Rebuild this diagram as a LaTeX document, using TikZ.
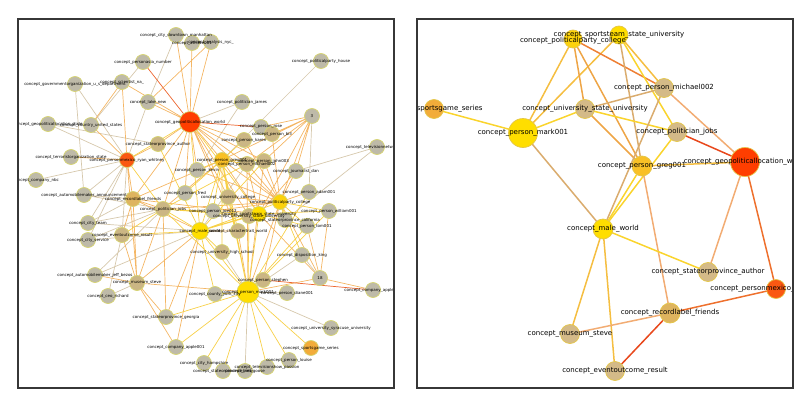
\documentclass[tikz,border=0pt]{standalone}
\usepackage{fontspec}
\setmainfont{DejaVu Sans}
\usetikzlibrary{backgrounds}
\definecolor{ndgray}{RGB}{190,186,168}
\definecolor{ndtan}{RGB}{203,182,132}
\definecolor{rtan}{RGB}{212,186,136}
\definecolor{ndgold}{RGB}{222,180,95}
\definecolor{ndyel}{RGB}{255,222,0}
\definecolor{ndgreg}{RGB}{249,192,38}
\definecolor{ndpcol}{RGB}{252,210,12}
\definecolor{ndorange}{RGB}{242,172,58}
\definecolor{ndred}{RGB}{255,62,0}
\definecolor{ndmex}{RGB}{250,88,18}
\definecolor{rimleft}{RGB}{214,212,112}
\definecolor{rimright}{RGB}{228,198,72}
\definecolor{boxline}{RGB}{55,55,55}
% left links
\definecolor{egtan}{RGB}{214,200,172}
\definecolor{egora}{RGB}{244,182,100}
\definecolor{egyel}{RGB}{247,208,72}
\definecolor{egred}{RGB}{236,100,45}
% right links
\definecolor{ry}{RGB}{250,212,45}
\definecolor{ryo}{RGB}{245,190,65}
\definecolor{ro}{RGB}{238,165,70}
\definecolor{rt}{RGB}{218,172,110}
\definecolor{rlo}{RGB}{242,172,115}
\definecolor{rr}{RGB}{232,72,28}
\definecolor{ror}{RGB}{238,112,45}
\tikzset{
  lnode/.style={circle,inner sep=0pt,outer sep=0pt,minimum size=15pt,
                line width=0.7pt,draw=rimleft,fill=ndgray},
  rnode/.style={circle,inner sep=0pt,outer sep=0pt,minimum size=19pt,
                line width=0.7pt,draw=rimright,fill=rtan},
  tl/.style={font=\fontsize{4}{4}\selectfont,inner sep=0pt},
  tr/.style={font=\fontsize{7}{7}\selectfont,inner sep=0pt},
  lk/.style={line width=0.7pt},
  rk/.style={line width=1.5pt}
}
\begin{document}
\begin{tikzpicture}[x=1pt,y=-1pt]
  \useasboundingbox (0,0) rectangle (812,407);
  % Left graph: nodes
  \node[lnode] (dtm) at (176,35) {};
  \node[lnode] (ath) at (192,43) {};
  \node[lnode] (nyc) at (211,42) {};
  \node[lnode] (asia) at (143,62) {};
  \node[lnode] (sci) at (122,82) {};
  \node[lnode] (gov) at (75,84) {};
  \node[lnode] (lake) at (148,102) {};
  \node[lnode] (house) at (321,61) {};
  \node[lnode] (james) at (242,102) {};
  \node[lnode] (three) at (312,116) {};
  \node[lnode] (geol) at (48,124) {};
  \node[lnode] (usa) at (91,125) {};
  \node[lnode] (rose) at (261,127) {};
  \node[lnode,fill=ndtan] (bill) at (272,134) {};
  \node[lnode,fill=ndtan] (author) at (158,144) {};
  \node[lnode,fill=ndtan] (karen) at (244,140) {};
  \node[lnode] (tele) at (377,147) {};
  \node[lnode] (tstate) at (71,157) {};
  \node[lnode,fill=ndmex] (mex) at (127,160) {};
  \node[lnode,fill=ndgreg] (greg) at (222,160) {};
  \node[lnode,fill=ndtan] (mich) at (247,164) {};
  \node[lnode,fill=ndtan] (john) at (264,161) {};
  \node[lnode] (kevin) at (197,170) {};
  \node[lnode] (dan) at (296,171) {};
  \node[lnode] (nbc) at (36,180) {};
  \node[lnode] (adam) at (309,192) {};
  \node[lnode] (pfred) at (185,193) {};
  \node[lnode,fill=ndtan] (ucol) at (228,197) {};
  \node[lnode] (amaker) at (84,195) {};
  \node[lnode,fill=ndgold] (rec) at (133,199) {};
  \node[lnode,fill=ndpcol] (pcol) at (280,202) {};
  \node[lnode,fill=ndtan] (jobs) at (163,209) {};
  \node[lnode] (joe) at (213,211) {};
  \node[lnode] (will) at (329,211) {};
  \node[lnode,fill=ndtan] (ustate) at (249,216) {};
  \node[lnode,fill=ndyel] (sport) at (259,214) {};
  \node[lnode] (calif) at (285,220) {};
  \node[lnode] (tom) at (307,226) {};
  \node[lnode] (team) at (88,223) {};
  \node[lnode,fill=ndtan] (event) at (122,235) {};
  \node[lnode,fill=ndyel,minimum size=17pt] (male) at (200,231) {};
  \node[lnode,fill=ndtan] (trait) at (238,231) {};
  \node[lnode] (cserv) at (88,240) {};
  \node[lnode,fill=ndtan] (high) at (222,252) {};
  \node[lnode] (king) at (302,255) {};
  \node[lnode] (jeff) at (95,275) {};
  \node[lnode] (eighteen) at (320,278) {};
  \node[lnode,fill=ndtan] (steph) at (263,280) {};
  \node[lnode,fill=ndtan] (museum) at (137,283) {};
  \node[lnode,fill=ndyel,minimum size=22pt] (mark) at (248,292) {};
  \node[lnode] (york) at (215,294) {};
  \node[lnode] (diane) at (287,293) {};
  \node[lnode] (apple) at (373,290) {};
  \node[lnode] (ceo) at (108,296) {};
  \node[lnode] (georgia) at (166,317) {};
  \node[lnode] (syr) at (331,328) {};
  \node[lnode] (apple1) at (176,347) {};
  \node[lnode,fill=ndorange] (series) at (311,348) {};
  \node[lnode] (louise) at (289,360) {};
  \node[lnode] (hamp) at (204,363) {};
  \node[lnode] (snew) at (223,371) {};
  \node[lnode] (goose) at (245,371) {};
  \node[lnode] (passion) at (267,367) {};
  \node[lnode,fill=ndred,minimum size=21pt] (geo) at (190,122) {};
  % Left graph: links
  \begin{scope}[on background layer]
    \draw[lk,egtan] (geo) -- (james) (gov) -- (mex) (gov) -- (amaker) (geol) -- (mex)
      (nbc) -- (mex) (amaker) -- (mex) (team) -- (mex) (cserv) -- (mex) (event) -- (mex)
      (team) -- (jobs) (cserv) -- (jobs) (amaker) -- (jobs) (amaker) -- (rec) (team) -- (rec)
      (cserv) -- (male) (team) -- (male) (jeff) -- (jobs) (jeff) -- (male) (ceo) -- (museum)
      (house) -- (greg) (tele) -- (dan) (tele) -- (calif) (three) -- (adam) (james) -- (kevin)
      (syr) -- (mark) (goose) -- (mark) (diane) -- (mark) (high) -- (mark) (king) -- (mark)
      (mich) -- (male) (asia) -- (usa) (lake) -- (mex) (eighteen) -- (king) (geol) -- (author)
      (dtm) -- (lake) (ceo) -- (event);
    \draw[lk,egora] (geo) -- (dtm) (geo) -- (ath) (geo) -- (nyc) (geo) -- (sci) (geo) -- (lake)
      (geo) -- (author) (geo) -- (kevin) (geo) -- (greg) (geo) -- (mich) (geo) -- (john)
      (geo) -- (pfred) (geo) -- (ucol) (geo) -- (jobs) (geo) -- (rec) (geo) -- (ustate)
      (geo) -- (pcol) (geo) -- (trait) (geo) -- (karen) (sci) -- (mex) (usa) -- (mex)
      (tstate) -- (mex) (rec) -- (mex) (museum) -- (mex) (author) -- (mex) (rec) -- (museum)
      (rec) -- (event) (rec) -- (greg) (rec) -- (sport) (jobs) -- (rec) (jobs) -- (georgia)
      (jobs) -- (museum) (jobs) -- (pcol) (jobs) -- (greg) (museum) -- (jeff) (museum) -- (event)
      (museum) -- (georgia) (museum) -- (apple1) (male) -- (rec) (male) -- (museum)
      (male) -- (georgia) (male) -- (apple1) (male) -- (trait) (mark) -- (eighteen)
      (mark) -- (pcol) (mark) -- (trait) (mark) -- (mich) (mark) -- (john) (mark) -- (museum)
      (three) -- (rose) (three) -- (bill) (three) -- (greg) (three) -- (john) (three) -- (dan)
      (three) -- (pcol) (three) -- (mich) (three) -- (sport) (pcol) -- (dan) (pcol) -- (adam)
      (pcol) -- (eighteen) (pcol) -- (steph) (pcol) -- (greg) (pcol) -- (mich) (pcol) -- (john)
      (pcol) -- (ucol) (pcol) -- (bill) (pcol) -- (karen) (pcol) -- (kevin) (pcol) -- (joe)
      (sport) -- (greg) (sport) -- (mich) (sport) -- (dan) (sport) -- (eighteen) (nyc) -- (lake)
      (sci) -- (usa) (eighteen) -- (apple) (eighteen) -- (will) (eighteen) -- (tom);
    \draw[lk,egyel] (geo) -- (mex) (geo) -- (male) (geo) -- (sport) (mex) -- (jobs)
      (male) -- (jobs) (male) -- (event) (male) -- (high) (male) -- (york) (male) -- (mark)
      (male) -- (pcol) (male) -- (sport) (male) -- (ustate) (male) -- (greg) (male) -- (john)
      (male) -- (author) (jobs) -- (event) (jobs) -- (sport) (jobs) -- (ustate) (jobs) -- (mich)
      (mark) -- (series) (mark) -- (louise) (mark) -- (hamp) (mark) -- (snew) (mark) -- (passion)
      (mark) -- (apple1) (mark) -- (georgia) (mark) -- (york) (mark) -- (steph) (mark) -- (jobs)
      (mark) -- (sport) (mark) -- (ustate) (mark) -- (greg) (mark) -- (tom) (mark) -- (will)
      (mark) -- (adam) (mark) -- (ucol) (pcol) -- (will) (pcol) -- (calif) (pcol) -- (tom)
      (pcol) -- (king) (sport) -- (will) (sport) -- (tom) (greg) -- (kevin) (greg) -- (karen)
      (greg) -- (john) (greg) -- (mich) (greg) -- (ucol) (greg) -- (joe) (greg) -- (pfred)
      (greg) -- (high) (greg) -- (trait);
    \draw[lk,egred] (geo) -- (asia) (geo) -- (rose) (steph) -- (apple);
  \end{scope}
  % Left graph: labels
  \begin{scope}
    \clip (18,19) rectangle (394,388);
    \node[tl] (dtm-t) at (dtm) {concept\_city\_downtown\_manhattan};
    \node[tl] (ath-t) at (ath) {concept\_athlete001};
    \node[tl] (nyc-t) at (nyc) {concept\_analysis\_nyc\_};
    \node[tl] (asia-t) at (asia) {concept\_personasia\_number};
    \node[tl] (sci-t) at (sci) {concept\_scientist\_na\_};
    \node[tl] (gov-t) at (gov) {concept\_governmentorganization\_u\_s\_department};
    \node[tl] (lake-t) at (lake) {concept\_lake\_new};
    \node[tl] (house-t) at (house) {concept\_politicalparty\_house};
    \node[tl] (geo-t) at (geo) {concept\_geopoliticallocation\_world};
    \node[tl] (james-t) at (james) {concept\_politician\_james};
    \node[tl] (three-t) at (three) {3};
    \node[tl] (geol-t) at (geol) {concept\_geopoliticallocation\_state};
    \node[tl] (usa-t) at (usa) {concept\_country\_united\_states};
    \node[tl] (rose-t) at (rose) {concept\_person\_rose};
    \node[tl] (bill-t) at (bill) {concept\_person\_bill};
    \node[tl] (author-t) at (author) {concept\_stateorprovince\_author};
    \node[tl] (karen-t) at (karen) {concept\_person\_karen};
    \node[tl] (tele-t) at (tele) {concept\_televisionnetwork\_cbs};
    \node[tl] (tstate-t) at (tstate) {concept\_terroristorganization\_state};
    \node[tl] (mex-t) at (mex) {concept\_personmexico\_ryan\_whitney};
    \node[tl] (greg-t) at (greg) {concept\_person\_greg001};
    \node[tl] (mich-t) at (mich) {concept\_person\_michael002};
    \node[tl] (john-t) at (john) {concept\_person\_john003};
    \node[tl] (kevin-t) at (kevin) {concept\_person\_kevin};
    \node[tl] (dan-t) at (dan) {concept\_journalist\_dan};
    \node[tl] (nbc-t) at (nbc) {concept\_company\_nbc};
    \node[tl] (adam-t) at (adam) {concept\_person\_adam001};
    \node[tl] (pfred-t) at (pfred) {concept\_person\_fred};
    \node[tl] (ucol-t) at (ucol) {concept\_university\_college};
    \node[tl] (amaker-t) at (amaker) {concept\_automobilemaker\_announcement};
    \node[tl] (rec-t) at (rec) {concept\_recordlabel\_friends};
    \node[tl] (pcol-t) at (pcol) {concept\_politicalparty\_college};
    \node[tl] (jobs-t) at (jobs) {concept\_politician\_jobs};
    \node[tl] (joe-t) at (joe) {concept\_person\_joe012};
    \node[tl] (will-t) at (will) {concept\_person\_william001};
    \node[tl] (ustate-t) at (ustate) {concept\_university\_state\_university};
    \node[tl] (sport-t) at (sport) {concept\_sportsteam\_state\_university};
    \node[tl] (calif-t) at (calif) {concept\_stateorprovince\_california};
    \node[tl] (tom-t) at (tom) {concept\_person\_tom001};
    \node[tl] (team-t) at (team) {concept\_city\_team};
    \node[tl] (event-t) at (event) {concept\_eventoutcome\_result};
    \node[tl] (male-t) at (male) {concept\_male\_world};
    \node[tl] (trait-t) at (trait) {concept\_charactertrait\_world};
    \node[tl] (cserv-t) at (cserv) {concept\_city\_service};
    \node[tl] (high-t) at (high) {concept\_university\_high\_school};
    \node[tl] (king-t) at (king) {concept\_disposition\_king};
    \node[tl] (jeff-t) at (jeff) {concept\_automobilemaker\_jeff\_bezos};
    \node[tl] (eighteen-t) at (eighteen) {18};
    \node[tl] (steph-t) at (steph) {concept\_person\_stephen};
    \node[tl] (museum-t) at (museum) {concept\_museum\_steve};
    \node[tl] (mark-t) at (mark) {concept\_person\_mark001};
    \node[tl] (york-t) at (york) {concept\_county\_york\_city};
    \node[tl] (diane-t) at (diane) {concept\_person\_diane001};
    \node[tl] (apple-t) at (apple) {concept\_company\_apple002};
    \node[tl] (ceo-t) at (ceo) {concept\_ceo\_richard};
    \node[tl] (georgia-t) at (georgia) {concept\_stateorprovince\_georgia};
    \node[tl] (syr-t) at (syr) {concept\_university\_syracuse\_university};
    \node[tl] (apple1-t) at (apple1) {concept\_company\_apple001};
    \node[tl] (series-t) at (series) {concept\_sportsgame\_series};
    \node[tl] (louise-t) at (louise) {concept\_person\_louise};
    \node[tl] (hamp-t) at (hamp) {concept\_city\_hampshire};
    \node[tl] (snew-t) at (snew) {concept\_stateorprovince\_new};
    \node[tl] (goose-t) at (goose) {concept\_bird\_goose};
    \node[tl] (passion-t) at (passion) {concept\_televisionshow\_passion};
  \end{scope}
  \draw[boxline,line width=1.2pt] (18,19) rectangle (394,388);

  % Right graph: nodes
  \node[rnode,fill=ndpcol,minimum size=18pt] (rpcol) at (573,39) {};
  \node[rnode,fill=ndyel,minimum size=18pt] (rsport) at (619,35) {};
  \node[rnode,fill=ndorange] (rseries) at (434,109) {};
  \node[rnode] (rustate) at (585,109) {};
  \node[rnode,fill=ndyel,minimum size=29pt] (rmark) at (523,133) {};
  \node[rnode] (rmich) at (664,88) {};
  \node[rnode] (rjobs) at (677,132) {};
  \node[rnode,fill=ndgreg,minimum size=20pt] (rgreg) at (642,166) {};
  \node[rnode,fill=ndred,minimum size=29pt] (rgeo) at (745,162) {};
  \node[rnode,fill=ndyel,minimum size=20pt] (rmale) at (603,229) {};
  \node[rnode] (rauthor) at (708,272) {};
  \node[rnode,fill=ndmex] (rmex) at (776,289) {};
  \node[rnode,fill=ndgold,minimum size=20pt] (rrec) at (670,313) {};
  \node[rnode] (rmuseum) at (570,334) {};
  \node[rnode] (revent) at (615,371) {};
  % Right graph: links
  \begin{scope}[on background layer]
    \draw[rk,ry] (rseries) -- (rmark);
    \draw[rk,ry] (rmark) -- (rustate);
    \draw[rk,ryo] (rmark) -- (rpcol);
    \draw[rk,ryo] (rmark) -- (rsport);
    \draw[rk,rt] (rmark) -- (rmale);
    \draw[rk,ro] (rpcol) -- (rustate);
    \draw[rk,ro] (rpcol) -- (rgreg);
    \draw[rk,ror!70!ro] (rpcol) -- (rmich);
    \draw[rk,ryo] (rsport) -- (rmich);
    \draw[rk,ry] (rsport) -- (rjobs);
    \draw[rk,rt] (rsport) -- (rgreg);
    \draw[rk,rt] (rustate) -- (rmich);
    \draw[rk,ry] (rustate) -- (rjobs);
    \draw[rk,ro] (rustate) -- (rgreg);
    \draw[rk,rlo] (rmich) -- (rgeo);
    \draw[rk,rt] (rmich) -- (rmale);
    \draw[rk,rr] (rjobs) -- (rgeo);
    \draw[rk,ry] (rjobs) -- (rmale);
    \draw[rk,ryo] (rgreg) -- (rgeo);
    \draw[rk,ry] (rgreg) -- (rmale);
    \draw[rk,rlo] (rgreg) -- (rrec);
    \draw[rk,ry] (rmale) -- (rauthor);
    \draw[rk,ryo] (rmale) -- (rmuseum);
    \draw[rk,ryo] (rmale) -- (revent);
    \draw[rk,rlo] (rgeo) -- (rauthor);
    \draw[rk,ror] (rgeo) -- (rmex);
    \draw[rk,ror] (rmex) -- (rrec);
    \draw[rk,rlo] (rrec) -- (rmuseum);
    \draw[rk,rr] (rrec) -- (revent);
  \end{scope}
  % Right graph: labels
  \begin{scope}
    \clip (417,19) rectangle (793,388);
    \node[tr] (rsport-t) at (rsport) {concept\_sportsteam\_state\_university};
    \node[tr] (rpcol-t) at ([yshift=-1.5pt]rpcol) {concept\_politicalparty\_college};
    \node[tr] (rseries-t) at (rseries) {concept\_sportsgame\_series};
    \node[tr] (rustate-t) at (rustate) {concept\_university\_state\_university};
    \node[tr] (rmark-t) at (rmark) {concept\_person\_mark001};
    \node[tr] (rmich-t) at (rmich) {concept\_person\_michael002};
    \node[tr] (rjobs-t) at (rjobs) {concept\_politician\_jobs};
    \node[tr] (rgreg-t) at (rgreg) {concept\_person\_greg001};
    \node[tr] (rgeo-t) at (rgeo) {concept\_geopoliticallocation\_world};
    \node[tr] (rmale-t) at (rmale) {concept\_male\_world};
    \node[tr] (rauthor-t) at (rauthor) {concept\_stateorprovince\_author};
    \node[tr] (rmex-t) at (rmex) {concept\_personmexico\_ryan\_whitney};
    \node[tr] (rrec-t) at (rrec) {concept\_recordlabel\_friends};
    \node[tr] (rmuseum-t) at (rmuseum) {concept\_museum\_steve};
    \node[tr] (revent-t) at (revent) {concept\_eventoutcome\_result};
  \end{scope}
  \draw[boxline,line width=1.2pt] (417,19) rectangle (793,388);
\end{tikzpicture}
\end{document}
